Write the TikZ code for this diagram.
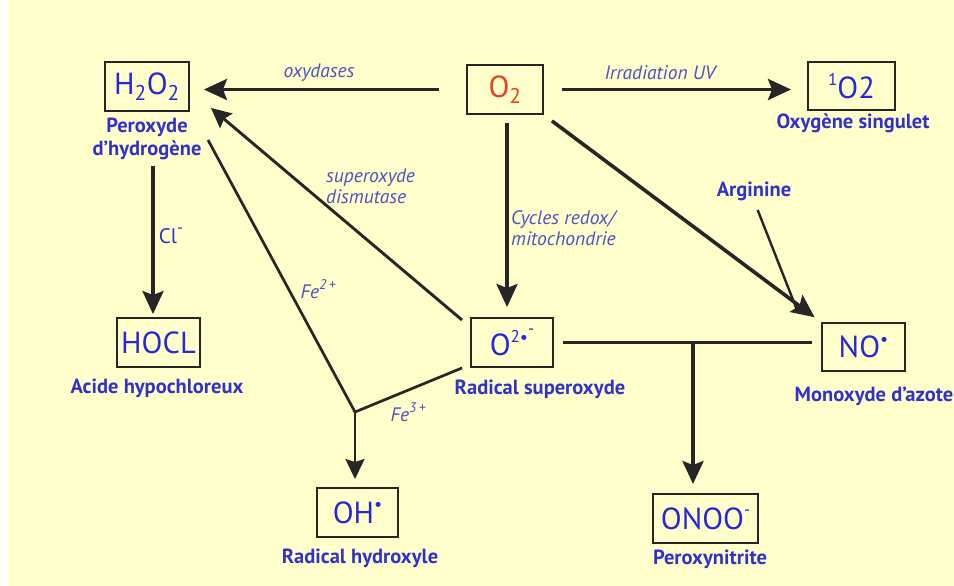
\documentclass[tikz,border=0pt]{standalone}
\usepackage{fontspec}
\setmainfont{PT Sans}
\usetikzlibrary{arrows.meta,calc}
\definecolor{bgc}{RGB}{255,255,204}
\definecolor{linec}{RGB}{38,38,38}
\definecolor{boxblue}{RGB}{40,40,215}
\definecolor{lblue}{RGB}{50,50,200}
\definecolor{iblue}{RGB}{80,80,195}
\definecolor{oxred}{RGB}{232,64,32}
\newcommand{\rdot}{\raisebox{0.40em}{\fontsize{18}{18}\selectfont\textbullet}}
\newcommand{\rsup}[1]{\raisebox{0.45em}{\fontsize{17}{17}\selectfont #1}}
\tikzset{
  box/.style={draw=linec, line width=1.9pt, text=boxblue, inner sep=0pt,
    font=\fontsize{30.5}{34}\selectfont, minimum width=84pt, minimum height=49pt},
  lbl/.style={font=\bfseries\fontsize{20.5}{23}\selectfont, text=lblue, align=center, inner sep=0pt},
  ital/.style={font=\itshape\fontsize{19.5}{21}\selectfont, text=iblue, inner sep=0pt},
  thickarr/.style={draw=linec, line width=3.6pt, -{Stealth[length=23pt,width=21pt,inset=4pt]}},
  thinarr/.style={draw=linec, line width=2.9pt, -{Stealth[length=20pt,width=19pt,inset=3pt]}},
  thinline/.style={draw=linec, line width=2.7pt}
}
\begin{document}
\begin{tikzpicture}[x=1pt,y=-1pt]
\useasboundingbox (0,0) rectangle (954,586);
\fill[white] (0,0) rectangle (954,586);
\fill[bgc] (8,0) rectangle (954,586);

% boxes
\node[box] (h2o2) at (147,86.5) {H\textsubscript{2}O\textsubscript{2}};
\node[box, minimum width=76pt, text=oxred] (o2) at (505,89.5) {O\textsubscript{2}};
\node[box, minimum width=87pt, minimum height=48pt] (so2) at (851.5,86) {\rsup{1}O2};
\node[box, minimum width=83pt] (hocl) at (158.5,342.5) {HOCL};
\node[box, minimum width=82pt] (sup) at (512,342.5) {O\rsup{2}\rdot\raisebox{0.25em}{\rsup{-}}};
\node[box, minimum width=83pt, minimum height=48pt] (no) at (863.5,347) {NO\rdot};
\node[box, minimum width=81pt] (oh) at (357.5,512.5) {OH\rdot};
\node[box, minimum width=105pt] (onoo) at (705.5,518.5) {ONOO\rsup{-}};

% labels under boxes
\node[lbl] (h2o2l) at (147,139) {Peroxyde\\d’hydrogène};
\node[lbl] (so2l) at (853,123) {Oxygène singulet};
\node[lbl] (hocll) at (157,388) {Acide hypochloreux};
\node[lbl] (supl) at (540,389) {Radical superoxyde};
\node[lbl] (nol) at (874,396) {Monoxyde d’azote};
\node[lbl] (onool) at (710,559) {Peroxynitrite};
\node[lbl] (ohl) at (360,558) {Radical hydroxyle};
\node[lbl] (arg) at (754,191) {Arginine};

% italic labels
\node[ital] (oxy) at (319,73) {oxydases};
\node[ital] (uv) at (660,73) {Irradiation UV};
\node[ital, align=left, anchor=west] (sod) at (326,186) {superoxyde\\dismutase};
\node[ital, align=left, anchor=west] (cyc) at (511,228) {Cycles redox/\\mitochondrie};
\node[ital] (fe2) at (318,289) {Fe\rsup{\fontsize{14}{14}\selectfont 2\,+}};
\node[ital] (fe3) at (408,412) {Fe\rsup{\fontsize{14}{14}\selectfont 3\,+}};
\node[font=\fontsize{21}{22}\selectfont, text=lblue, inner sep=0pt] (cl) at (171,236) {Cl\rsup{-}};

% coordinates
\coordinate (j) at (355,412);
\coordinate (fes) at (208,140);
\coordinate (br) at (693,343);

% connectors
\draw[thinline, line width=2.4pt, shorten <=10pt] (arg.south) -- (797,310);
\draw[thickarr, shorten <=27pt, shorten >=14pt] (o2.west) -- (h2o2.east |- o2.west);
\draw[thickarr, shorten <=18pt, shorten >=16pt] (o2.east) -- (so2.west |- o2.east);
\draw[thickarr, shorten <=8pt, shorten >=10pt] ([xshift=2pt]o2.south) -- ([xshift=2pt]o2.south |- sup.north);
\draw[thickarr, shorten <=6pt, shorten >=3pt] ([xshift=6pt]h2o2l.south) -- ([xshift=6pt]h2o2l.south |- hocl.north);
\draw[thickarr, shorten <=10pt, shorten >=8pt] (o2.south east) -- (no.north west);
\draw[thinarr] ([xshift=-8pt,yshift=-3pt]sup.north west) -- ([xshift=21pt,yshift=4pt]h2o2.south east);
\draw[thinline] (fes) -- (j);
\draw[thinline] ([xshift=-8pt]sup.south west) -- (j);
\draw[thinarr, shorten >=8pt] (j) -- (j |- oh.north);
\draw[thinline, shorten <=9pt, shorten >=9pt] (sup.east) -- (sup.east -| no.west);
\draw[thickarr, shorten >=9pt] (br) -- (br |- onoo.north);
\end{tikzpicture}
\end{document}
